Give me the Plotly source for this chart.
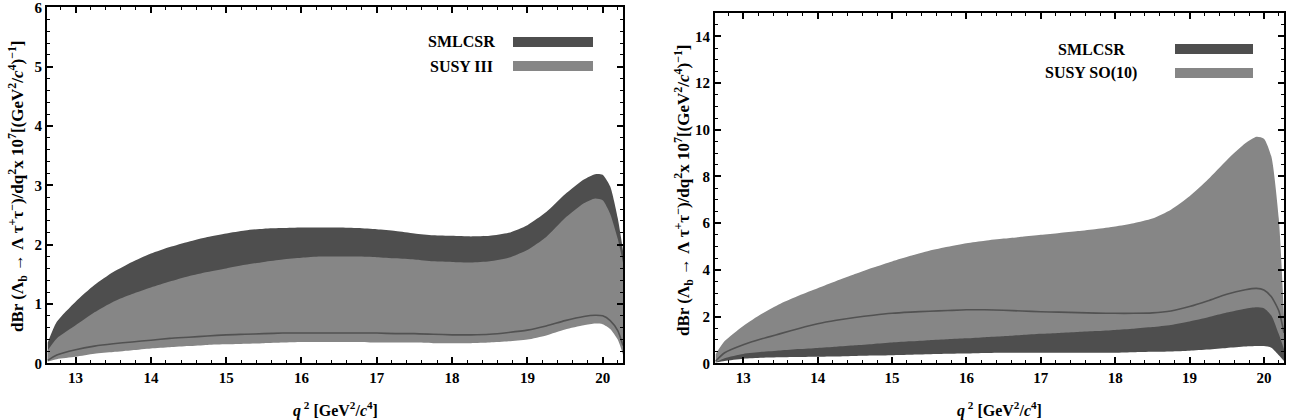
import plotly.graph_objects as go

# ---------------- data ----------------
q2 = [12.63, 12.75, 13.0, 13.25, 13.5, 13.75, 14.0, 14.25, 14.5, 14.75, 15.0, 15.25, 15.5, 15.75,
      16.0, 16.25, 16.5, 16.75, 17.0, 17.25, 17.5, 17.75, 18.0, 18.25, 18.5, 18.75, 19.0, 19.25,
      19.5, 19.75, 19.9, 20.0, 20.1, 20.2, 20.27]

# left panel: SMLCSR band and SUSY III band
left_sm_upper = [0.35, 0.70, 1.04, 1.32, 1.54, 1.71, 1.85, 1.96, 2.05, 2.13, 2.19, 2.24, 2.27, 2.28,
                 2.29, 2.29, 2.29, 2.28, 2.26, 2.23, 2.19, 2.16, 2.15, 2.14, 2.15, 2.20, 2.33, 2.55,
                 2.85, 3.10, 3.19, 3.18, 2.98, 2.45, 1.90]
left_sm_lower = [0.05, 0.14, 0.23, 0.29, 0.33, 0.36, 0.39, 0.42, 0.44, 0.46, 0.48, 0.49, 0.50, 0.51,
                 0.51, 0.51, 0.51, 0.51, 0.51, 0.50, 0.50, 0.49, 0.48, 0.48, 0.49, 0.52, 0.56, 0.63,
                 0.72, 0.79, 0.81, 0.80, 0.72, 0.55, 0.30]
left_susy_upper = [0.22, 0.42, 0.64, 0.86, 1.04, 1.17, 1.28, 1.38, 1.47, 1.54, 1.60, 1.66, 1.71, 1.75,
                   1.78, 1.80, 1.80, 1.80, 1.79, 1.77, 1.75, 1.72, 1.71, 1.70, 1.72, 1.78, 1.91, 2.13,
                   2.45, 2.70, 2.78, 2.75, 2.52, 2.10, 1.70]
left_susy_lower = [0.03, 0.07, 0.11, 0.16, 0.19, 0.22, 0.25, 0.27, 0.29, 0.31, 0.32, 0.33, 0.34, 0.35,
                   0.36, 0.36, 0.36, 0.36, 0.35, 0.35, 0.35, 0.34, 0.34, 0.34, 0.35, 0.37, 0.40, 0.47,
                   0.57, 0.64, 0.67, 0.66, 0.58, 0.40, 0.15]

# right panel: SMLCSR band and SUSY SO(10) band
right_sm_upper = [0.10, 0.45, 0.79, 1.05, 1.27, 1.49, 1.69, 1.84, 1.96, 2.06, 2.14, 2.19, 2.23, 2.26,
                  2.29, 2.29, 2.27, 2.24, 2.21, 2.19, 2.17, 2.15, 2.14, 2.14, 2.16, 2.24, 2.43, 2.68,
                  2.96, 3.15, 3.21, 3.14, 2.85, 2.25, 1.30]
right_sm_lower = [0.03, 0.10, 0.20, 0.24, 0.26, 0.27, 0.28, 0.29, 0.31, 0.33, 0.35, 0.37, 0.39, 0.41,
                  0.42, 0.44, 0.45, 0.45, 0.45, 0.45, 0.45, 0.45, 0.45, 0.47, 0.49, 0.51, 0.54, 0.59,
                  0.66, 0.72, 0.74, 0.74, 0.67, 0.35, 0.10]
right_susy_upper = [0.40, 0.95, 1.60, 2.12, 2.55, 2.90, 3.21, 3.52, 3.82, 4.10, 4.36, 4.60, 4.82, 4.99,
                    5.14, 5.25, 5.34, 5.42, 5.50, 5.58, 5.66, 5.75, 5.86, 6.00, 6.20, 6.58, 7.15, 7.88,
                    8.70, 9.42, 9.70, 9.62, 8.85, 6.20, 2.00]
right_susy_lower = [0.05, 0.22, 0.40, 0.49, 0.55, 0.61, 0.66, 0.71, 0.77, 0.83, 0.89, 0.94, 0.99, 1.03,
                    1.07, 1.12, 1.16, 1.21, 1.26, 1.30, 1.34, 1.38, 1.43, 1.48, 1.55, 1.64, 1.79, 1.97,
                    2.17, 2.34, 2.40, 2.36, 2.05, 1.25, 0.60]

x_ticks = [13, 14, 15, 16, 17, 18, 19, 20]
left_legend = ["SMLCSR", "SUSY III"]
right_legend = ["SMLCSR", "SUSY SO(10)"]

# ---------------- styling ----------------
W, H = 1297, 420
DARK = "rgb(78,78,78)"
LIGHT = "rgb(134,134,134)"
LINE = "rgb(82,82,82)"
FONT = "Liberation Serif"
SMOOTH = 0.6


def px(x):
    return x / W


def py(y):
    return 1 - y / H


fig = go.Figure()


def add_band(lower, upper, color, xa, ya):
    fig.add_trace(go.Scatter(x=q2, y=lower, mode="lines",
                             line=dict(width=0, shape="spline", smoothing=SMOOTH),
                             xaxis=xa, yaxis=ya, showlegend=False, hoverinfo="skip"))
    fig.add_trace(go.Scatter(x=q2, y=upper, mode="lines",
                             line=dict(width=0, shape="spline", smoothing=SMOOTH),
                             fill="tonexty", fillcolor=color, xaxis=xa, yaxis=ya,
                             showlegend=False, hoverinfo="skip"))


def add_line(vals, xa, ya):
    fig.add_trace(go.Scatter(x=q2, y=vals, mode="lines",
                             line=dict(width=1.6, color=LINE, shape="spline", smoothing=SMOOTH),
                             xaxis=xa, yaxis=ya, showlegend=False, hoverinfo="skip"))


# left panel
add_band(left_sm_lower, left_sm_upper, DARK, "x", "y")
add_band(left_susy_lower, left_susy_upper, LIGHT, "x", "y")
add_line(left_sm_lower, "x", "y")

# right panel
add_band(right_sm_lower, right_sm_upper, DARK, "x2", "y2")
add_band(right_susy_lower, right_susy_upper, LIGHT, "x2", "y2")
add_line(right_sm_upper, "x2", "y2")

tickfont = dict(family=FONT, size=15, color="black", weight="bold")


def xaxis_cfg(domain, anchor):
    return dict(domain=domain, range=[12.62, 20.27], tickvals=x_ticks, ticks="inside", ticklen=6,
                tickwidth=1.5, tickcolor="black", showline=True, linewidth=2.2, linecolor="black",
                mirror="allticks", showgrid=False, zeroline=False, tickfont=tickfont, anchor=anchor,
                ticklabeloverflow="allow", automargin=False,
                minor=dict(dtick=0.2, tick0=13, ticks="inside", ticklen=3, tickcolor="black",
                           tickwidth=1, showgrid=False))


def yaxis_cfg(domain, rng, dtick, mdtick, anchor):
    return dict(domain=domain, range=rng, dtick=dtick, tick0=0, ticks="inside", ticklen=6,
                tickwidth=1.5, tickcolor="black", showline=True, linewidth=2.2, linecolor="black",
                mirror="allticks", showgrid=False, zeroline=False, tickfont=tickfont, anchor=anchor,
                ticklabeloverflow="allow", automargin=False,
                minor=dict(dtick=mdtick, tick0=0, ticks="inside", ticklen=3, tickcolor="black",
                           tickwidth=1, showgrid=False))


ytitle = ("<b>dBr (Λ<sub>b</sub> → Λ τ<sup>+</sup>τ<sup>−</sup>)/dq<sup>2</sup>x 10<sup>7</sup>"
          "[(GeV<sup>2</sup>/<i>c</i><sup>4</sup>)<sup>−1</sup>]</b>")
xtitle = "<b><i>q</i><sup> 2</sup> [GeV<sup>2</sup>/<i>c</i><sup>4</sup>]</b>"

annotations = []
shapes = []
titlefont = dict(family=FONT, size=17, color="black")
legfont = dict(family=FONT, size=16, color="black", weight="bold")

for cx, cy in [(17, 186), (684, 190)]:
    annotations.append(dict(text=ytitle, x=px(cx), y=py(cy), xref="paper", yref="paper",
                            textangle=-90, showarrow=False, font=titlefont,
                            xanchor="center", yanchor="middle"))
for cx in [335, 1000]:
    annotations.append(dict(text=xtitle, x=px(cx), y=py(409), xref="paper", yref="paper",
                            showarrow=False, font=dict(family=FONT, size=16, color="black"),
                            xanchor="center", yanchor="middle"))

legend_specs = [
    (left_legend, 461, (513, 593), [42, 66]),
    (right_legend, 1091, (1175, 1253), [49, 73]),
]
for labels, tx, (sx0, sx1), ys in legend_specs:
    for lab, yy, col in zip(labels, ys, [DARK, LIGHT]):
        annotations.append(dict(text=lab, x=px(tx), y=py(yy), xref="paper", yref="paper",
                                showarrow=False, font=legfont, xanchor="center", yanchor="middle"))
        shapes.append(dict(type="rect", xref="paper", yref="paper", x0=px(sx0), x1=px(sx1),
                           y0=py(yy + 5), y1=py(yy - 5), fillcolor=col, line=dict(width=0)))

fig.update_layout(
    width=W, height=H,
    margin=dict(l=0, r=0, t=0, b=0, autoexpand=False),
    paper_bgcolor="white", plot_bgcolor="white",
    xaxis=xaxis_cfg([px(47), px(623)], "y"),
    yaxis=yaxis_cfg([py(363.3), py(7.3)], [0, 6.004], 1, 0.2, "x"),
    xaxis2=xaxis_cfg([px(715), px(1284)], "y2"),
    yaxis2=yaxis_cfg([py(363.3), py(13)], [0, 15], 2, 0.5, "x2"),
    annotations=annotations,
    shapes=shapes,
    showlegend=False,
)

fig.write_html("out.html")
